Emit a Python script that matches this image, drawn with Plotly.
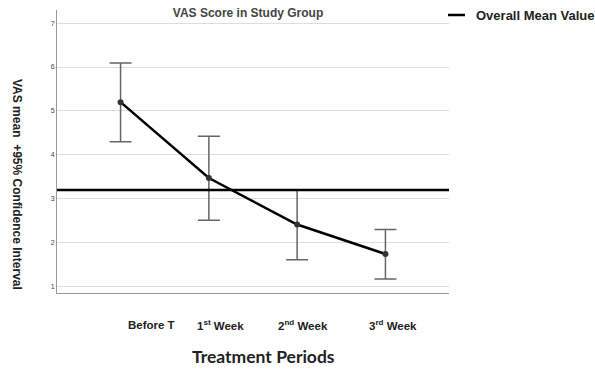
import plotly.graph_objects as go

categories = ["Before T", "1<sup>st</sup> Week", "2<sup>nd</sup> Week", "3<sup>rd</sup> Week"]
means = [5.20, 3.47, 2.41, 1.74]
upper = [6.09, 4.42, 3.20, 2.30]
lower = [4.30, 2.51, 1.61, 1.17]
overall_mean = 3.20
y_ticks = [1, 2, 3, 4, 5, 6, 7]

# horizontal pixel shifts of the category labels (layout only)
label_shift = [31, 12, 6, 8]

xs = list(range(len(categories)))
err_plus = [u - m for u, m in zip(upper, means)]
err_minus = [m - l for m, l in zip(means, lower)]

PL, PR, PT, PB = 57, 449, 10, 293
W, H = 595, 372

fig = go.Figure()
fig.add_trace(go.Scatter(
    x=xs, y=means, mode="lines+markers",
    line=dict(color="black", width=2.5),
    marker=dict(color="#333333", size=6),
    error_y=dict(type="data", symmetric=False, array=err_plus, arrayminus=err_minus,
                 color="#666666", thickness=1.5, width=11),
    showlegend=False,
))

# overall mean line
fig.add_shape(type="line", xref="paper", yref="y", x0=0, x1=1,
              y0=overall_mean, y1=overall_mean,
              line=dict(color="black", width=2.5))

def px_x(p):
    return (p - PL) / (PR - PL)

def px_y(p):
    return (PB - p) / (PB - PT)

# manual legend
fig.add_shape(type="line", xref="paper", yref="paper", x0=px_x(448), x1=px_x(465),
              y0=px_y(15), y1=px_y(15), line=dict(color="black", width=2.5))
fig.add_annotation(xref="paper", yref="paper", x=px_x(474), y=px_y(15),
                   xanchor="left", yanchor="middle", showarrow=False,
                   text="<b>Overall Mean Value</b>",
                   font=dict(family="Liberation Sans, Arial", size=13, color="#222222"))

# category labels
for i, lab in enumerate(categories):
    fig.add_annotation(xref="x", yref="paper", x=xs[i], y=0, yshift=-32, xshift=label_shift[i],
                       xanchor="center", yanchor="middle", showarrow=False,
                       text="<b>" + lab + "</b>",
                       font=dict(family="Liberation Sans, Arial", size=11.5, color="#222222"))

# axis titles
fig.add_annotation(xref="paper", yref="paper", x=px_x(263), y=px_y(356),
                   xanchor="center", yanchor="middle", showarrow=False,
                   text="<b>Treatment Periods</b>",
                   font=dict(family="Lato, Open Sans", size=17.5, color="#222222"))
fig.add_annotation(xref="paper", yref="paper", x=px_x(17), y=px_y(184),
                   xanchor="center", yanchor="middle", showarrow=False, textangle=90,
                   text="<b>VAS mean  +95% Confidence Interval</b>",
                   font=dict(family="Liberation Sans, Arial", size=12, color="#222222"))

fig.update_layout(
    width=W, height=H,
    margin=dict(l=PL, r=W - PR, t=PT, b=H - PB),
    paper_bgcolor="white", plot_bgcolor="white",
    title=dict(text="<b>VAS Score in Study Group</b>", x=248 / W, xanchor="center",
               y=1 - 13 / H, yanchor="middle", yref="container",
               font=dict(family="Liberation Sans, Arial", size=12, color="#444444")),
    xaxis=dict(range=[-0.72, 3.72], tickvals=xs, showticklabels=False,
               showgrid=False, zeroline=False, showline=True, linecolor="#999999", linewidth=1,
               ticks=""),
    yaxis=dict(range=[0.85, 7.30], tickvals=y_ticks,
               showgrid=True, gridcolor="#dddddd", gridwidth=1, zeroline=False,
               showline=True, linecolor="#999999", linewidth=1, ticks="",
               tickfont=dict(family="Liberation Sans, Arial", size=7, color="#444444")),
)

fig.write_html("out.html")
